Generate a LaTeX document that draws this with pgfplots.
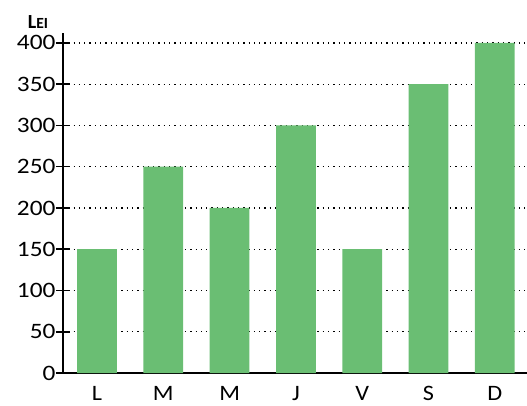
\documentclass[border=0pt]{standalone}
\usepackage{fontspec}
\setmainfont{Carlito}
\usepackage{pgfplots}
\pgfplotsset{compat=1.18}
\definecolor{barg}{RGB}{106,190,115}
\newcommand{\wx}[1]{\scalebox{1.1}[1]{#1}}
\begin{document}
\begin{tikzpicture}
\begin{axis}[
  scale only axis,
  width=464pt, height=340pt,
  xmin=-0.513, xmax=6.486,
  ymin=0, ymax=412,
  axis x line=bottom, axis y line=left,
  axis line style={line width=1.6pt,-},
  xtick={0,1,2,3,4,5,6},
  xticklabels={\wx{L},\wx{M},\wx{M},\wx{J},\wx{V},\wx{S},\wx{D}},
  x tick style={draw=none},
  ytick={0,50,...,400},
  yticklabel={\scalebox{1.15}[1]{\pgfmathprintnumber{\tick}}},
  y tick style={line width=1.6pt,black},
  tick align=center,
  major tick length=14pt,
  ymajorgrids,
  grid style={dash pattern=on 1.3pt off 4pt,line width=1.3pt,black},
  tick label style={font=\fontsize{22}{24}\selectfont},
  /pgf/number format/assume math mode=true,
  yticklabel style={xshift=3pt},
  xticklabel style={yshift=-3pt},
  clip=false,
]
\addplot[ybar, bar width=0.6, fill=barg, draw=none] coordinates {
(0,150) (1,250) (2,200) (3,300) (4,150) (5,350) (6,400)};
\node[font=\bfseries, anchor=center] at ([xshift=-25pt,yshift=11pt]rel axis cs:0,1) {{\fontsize{20}{20}\selectfont L}{\fontsize{15.5}{16}\selectfont EI}};
\end{axis}
\pgfresetboundingbox
\path[use as bounding box] (-63pt,-32pt) rectangle (464pt,373pt);
\end{tikzpicture}
\end{document}
